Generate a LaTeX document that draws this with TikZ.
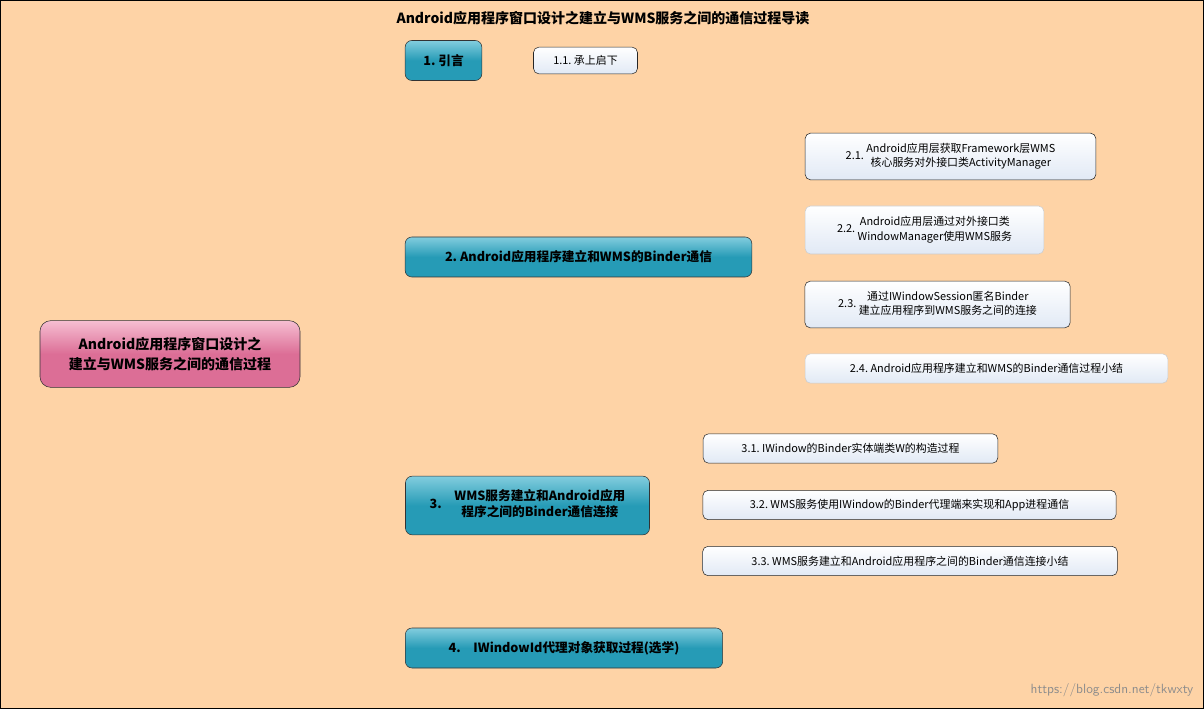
\documentclass[tikz,border=0pt]{standalone}
\usepackage{fontspec}
\setmainfont{Noto Sans CJK SC}
\usetikzlibrary{backgrounds}
\definecolor{bg}{RGB}{254,211,166}
\definecolor{ln}{RGB}{60,110,110}
\definecolor{teal1}{RGB}{130,205,222}
\definecolor{teal2}{RGB}{38,155,182}
\definecolor{pink1}{RGB}{246,190,210}
\definecolor{pink2}{RGB}{220,110,150}
\definecolor{leafb}{RGB}{225,233,245}
\tikzset{
 mainbox/.style={draw=black!80,rounded corners=5pt,top color=teal1,bottom color=teal2,middle color=teal2,font=\fontsize{9.5}{12}\selectfont\bfseries,inner sep=0pt,align=center,minimum height=30pt},
 leafbox/.style={draw=black!85,rounded corners=4pt,top color=white,bottom color=leafb,font=\fontsize{8.2}{11}\selectfont,inner sep=0pt,align=center},
 lightleaf/.style={leafbox,draw=black!20},
 conn/.style={draw=ln,line width=0.6pt,rounded corners=6pt}
}
\begin{document}
\begin{tikzpicture}[x=0.75pt,y=-0.75pt]
\path[fill=bg,draw=black] (0.5,0.5) rectangle (1203.5,708.5);
\useasboundingbox (0,0) rectangle (1204,709);
\node (title) at (603,18) {\fontsize{10.5}{12}\selectfont\bfseries Android应用程序窗口设计之建立与WMS服务之间的通信过程导读};
\node[draw=black!80,rounded corners=8pt,top color=pink1,bottom color=pink2,middle color=pink2,minimum width=195pt,minimum height=50pt,align=center,font=\fontsize{10.5}{15}\selectfont\bfseries] (root) at (170,354) {Android应用程序窗口设计之\\建立与WMS服务之间的通信过程};
\node[mainbox,minimum width=57.5pt] (n1) at (443.5,60.5) {1.\ 引言};
\node[mainbox,minimum width=260pt] (n2) at (578.5,257) {2.\ Android应用程序建立和WMS的Binder通信};
\node[mainbox,minimum width=183pt,minimum height=44pt] (n3) at (527.5,505.5) {3.\quad\begin{tabular}{@{}c@{}}WMS服务建立和Android应用\\程序之间的Binder通信连接\end{tabular}};
\node[mainbox,minimum width=238pt] (n4) at (564,648) {4.\quad IWindowId代理对象获取过程(选学)};
\node[leafbox,minimum width=78pt,minimum height=20pt] (l11) at (585.5,60.5) {1.1.\ 承上启下};
\node[leafbox,minimum width=218pt,minimum height=35pt] (l21) at (950.5,156.5) {2.1.\ \begin{tabular}{@{}c@{}}Android应用层获取Framework层WMS\\核心服务对外接口类ActivityManager\end{tabular}};
\node[lightleaf,minimum width=179pt,minimum height=36pt] (l22) at (924.5,230) {2.2.\ \begin{tabular}{@{}c@{}}Android应用层通过对外接口类\\WindowManager使用WMS服务\end{tabular}};
\node[leafbox,minimum width=199pt,minimum height=35pt] (l23) at (937.5,304.5) {2.3.\ \begin{tabular}{@{}c@{}}通过IWindowSession匿名Binder\\建立应用程序到WMS服务之间的连接\end{tabular}};
\node[lightleaf,minimum width=272pt,minimum height=22pt] (l24) at (986.5,368.5) {2.4.\ Android应用程序建立和WMS的Binder通信过程小结};
\node[leafbox,minimum width=221pt,minimum height=22pt] (l31) at (850.5,448.5) {3.1.\ IWindow的Binder实体端类W的构造过程};
\node[leafbox,minimum width=310pt,minimum height=22pt] (l32) at (909.5,505) {3.2.\ WMS服务使用IWindow的Binder代理端来实现和App进程通信};
\node[leafbox,minimum width=311pt,minimum height=22pt] (l33) at (910,561) {3.3.\ WMS服务建立和Android应用程序之间的Binder通信连接小结};
\node[text=black!45,font=\fontsize{10}{12}\selectfont\sffamily] (wm) at (1112,690) {https://blog.csdn.net/tkwxty};
\begin{scope}[on background layer]
\path[fill=bg] (1,1) rectangle (1203,708);
\coordinate (t) at (265,354);
\foreach \n in {n1,n2,n3,n4} \draw[conn] (t) |- (\n.west);
\draw[conn] (n1.east) -- (l11.west);
\coordinate (t2) at (774,257);
\draw[conn] (n2.east) -- (t2);
\foreach \n in {l21,l22,l23,l24} \draw[conn] (t2) |- (\n.west);
\coordinate (t3) at (671,505);
\draw[conn] (n3.east) -- (t3);
\foreach \n in {l31,l32,l33} \draw[conn] (t3) |- (\n.west);
\end{scope}
\end{tikzpicture}
\end{document}
